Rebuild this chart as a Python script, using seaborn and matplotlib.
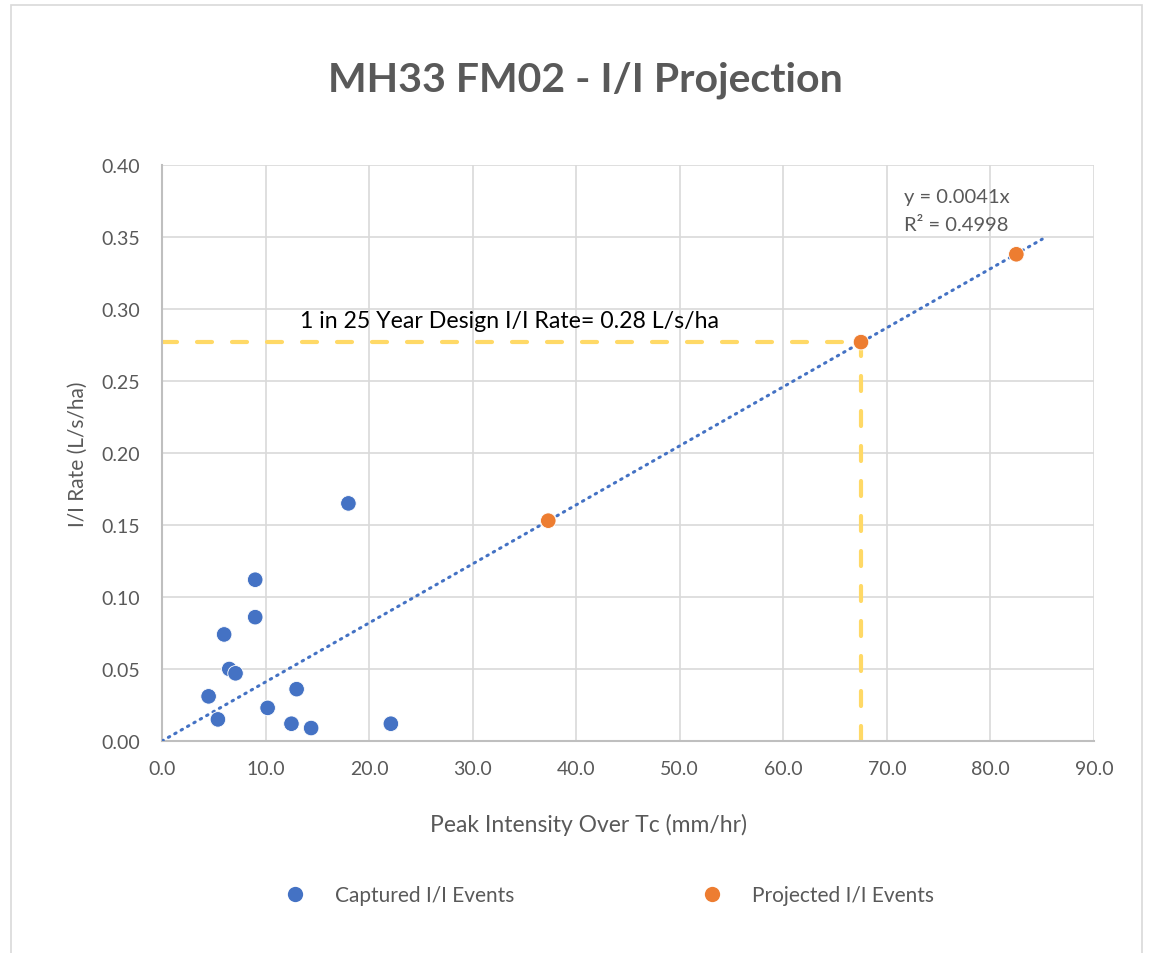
import numpy as np
import pandas as pd
import seaborn as sns
import matplotlib.pyplot as plt
from matplotlib.patches import Rectangle
from matplotlib.lines import Line2D

# Observed events: peak intensity over Tc (mm/hr) vs I/I rate (L/s/ha)
captured_x = [18.0, 9.0, 9.0, 6.0, 6.5, 7.1, 4.5, 5.4, 10.2, 13.0, 12.5, 14.4, 22.1]
captured_y = [0.165, 0.112, 0.086, 0.074, 0.050, 0.047, 0.031, 0.015, 0.023, 0.036, 0.012, 0.009, 0.012]

# Projected design storm events on the trend line
projected_x = [37.3, 67.5, 82.5]
projected_y = [0.153, 0.277, 0.338]

# Linear trend through the origin
trend_slope = 0.0041
trend_r2 = 0.4998
trend_x_max = 85.0

x_ticks = [0, 10, 20, 30, 40, 50, 60, 70, 80, 90]
y_ticks = [0.00, 0.05, 0.10, 0.15, 0.20, 0.25, 0.30, 0.35, 0.40]

series_names = ["Captured I/I Events", "Projected I/I Events"]
colors = {"Captured I/I Events": "#4472C4", "Projected I/I Events": "#ED7D31"}

df = pd.DataFrame({
    "x": captured_x + projected_x,
    "y": captured_y + projected_y,
    "series": [series_names[0]] * len(captured_x) + [series_names[1]] * len(projected_x),
})

sns.set_theme(style="white")
plt.rcParams["font.family"] = ["Lato", "DejaVu Sans"]
text_gray = "#595959"

fig = plt.figure(figsize=(11.5, 9.54), dpi=100)
ax = fig.add_axes([162 / 1150, 1 - 742 / 954, (1094 - 162) / 1150, (742 - 166) / 954])

# Design storm guide lines (1 in 25 year event)
design_x = projected_x[1]
design_y = projected_y[1]
dash_style = dict(color="#FFD966", lw=3.0, linestyle=(0, (3.6, 4.8)),
                  dash_capstyle="round", zorder=2)
ax.plot([0, design_x], [design_y, design_y], **dash_style)
ax.plot([design_x, design_x], [0, design_y], **dash_style)

# Trend line
tx = np.array([0.0, trend_x_max])
ax.plot(tx, trend_slope * tx, color="#4472C4", lw=2.2,
        linestyle=(0, (0.5, 1.9)), dash_capstyle="round", zorder=3)

sns.scatterplot(data=df, x="x", y="y", hue="series", palette=colors, s=125,
                edgecolor="white", linewidth=0.6, legend=False, ax=ax, zorder=4)

ax.set_xlim(0, 90)
ax.set_ylim(0, 0.40)
ax.set_xticks(x_ticks)
ax.set_yticks(y_ticks)
ax.set_xticklabels([f"{v:.1f}" for v in x_ticks])
ax.set_yticklabels([f"{v:.2f}" for v in y_ticks])
ax.tick_params(axis="both", length=0, labelsize=14, labelcolor=text_gray)
ax.tick_params(axis="y", pad=16)
ax.tick_params(axis="x", pad=14)
ax.grid(True, color="#D9D9D9", lw=1.2)
ax.set_axisbelow(True)
for side in ["top", "right"]:
    ax.spines[side].set_visible(False)
for side in ["left", "bottom"]:
    ax.spines[side].set_color("#BFBFBF")
    ax.spines[side].set_linewidth(1.5)

ax.set_xlabel("Peak Intensity Over Tc (mm/hr)", fontsize=16.5, color=text_gray)
ax.xaxis.set_label_coords((588 - 162) / 932, -(825 - 742) / 576)
ax.xaxis.label.set_va("center")
ax.set_ylabel("I/I Rate (L/s/ha)", fontsize=15, color=text_gray)
ax.yaxis.set_label_coords(-(162 - 78) / 932, 0.5)
ax.yaxis.label.set_va("center")

ax.text(13.3, 0.2917, f"1 in 25 Year Design I/I Rate= {design_y:.2f} L/s/ha",
        fontsize=16.7, color="black", va="center", ha="left")
ax.text(71.7, 0.378, f"y = {trend_slope}x", fontsize=14.5, color=text_gray, va="center")
ax.text(71.7, 0.359, f"R² = {trend_r2}", fontsize=14.5, color=text_gray, va="center")

fig.text(585 / 1150, 1 - 80 / 954, "MH33 FM02 - I/I Projection", fontsize=29.5,
         fontweight="bold", color=text_gray, ha="center", va="center")

handles = [Line2D([], [], marker="o", linestyle="none", markersize=11,
                  markerfacecolor=colors[n], markeredgecolor="none") for n in series_names]
fig.legend(handles, series_names, loc="center", bbox_to_anchor=(604 / 1150, 1 - 896 / 954),
           ncol=2, frameon=False, fontsize=15, labelcolor=text_gray,
           handletextpad=0.92, columnspacing=8.5)

# Chart area border
fig.patches.append(Rectangle((11 / 1150, -0.05), (1142 - 11) / 1150, 1.05 - 6 / 954,
                             transform=fig.transFigure, fill=False,
                             edgecolor="#D9D9D9", lw=1.2))

fig.savefig("out.png", dpi=100, facecolor="white")
